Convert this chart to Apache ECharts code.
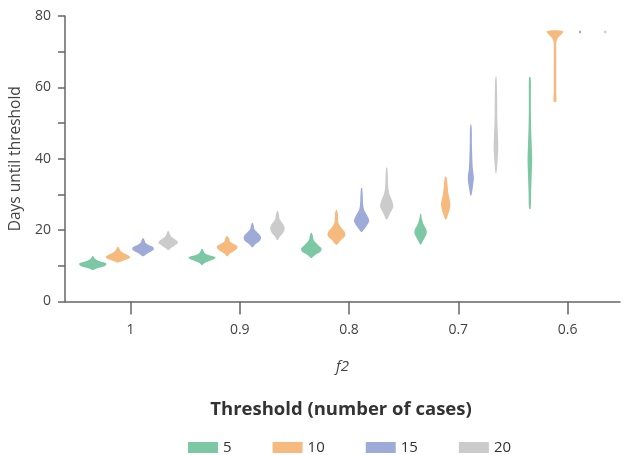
<!DOCTYPE html>
<html>
<head>
<meta charset="utf-8">
<script src="https://cdn.jsdelivr.net/npm/echarts@6/dist/echarts.min.js"></script>
<style>
  html, body { margin: 0; padding: 0; background: #fff; }
  #chart { width: 627px; height: 455px; }
</style>
</head>
<body>
<div id="chart"></div>
<script>
// f2 groups along x, one violin per threshold inside each group
const f2Labels = ['1', '0.9', '0.8', '0.7', '0.6'];
const thresholds = ['5', '10', '15', '20'];

// lowest / highest days per violin (one entry per f2 group)
const low5 = [8.8, 10.2, 12.2, 16.0, 26.0];
const high5 = [12.7, 14.7, 19.2, 24.5, 62.8];
const low10 = [10.9, 12.7, 15.9, 23.0, 56.0];
const high10 = [15.3, 18.3, 25.6, 35.0, 75.7];
const low15 = [12.7, 15.2, 19.5, 29.7, 75.2];
const high15 = [17.7, 22.0, 31.8, 49.5, 75.8];
const low20 = [14.4, 17.2, 23.0, 36.0, 75.2];
const high20 = [19.7, 25.3, 37.5, 63.0, 75.8];

// density profile, evenly spaced from low to high
const dens5 = [
  [1, 9, 21, 26, 26, 15, 7, 3, 1],
  [1, 5, 14, 24, 26, 12, 5, 3, 1],
  [1, 8, 18, 20, 14, 8, 4, 3, 1],
  [1, 5, 9, 12, 11, 7, 4, 2, 1],
  [1.5, 2.5, 3.5, 4.5, 3.5, 2.5, 2, 2, 1.5]
];
const dens10 = [
  [1, 10, 21, 24, 18, 10, 5, 3, 1],
  [1, 5, 13, 19, 20, 12, 5, 4, 1],
  [1, 8, 17, 16, 9, 4, 3, 3, 1],
  [1, 5, 8, 9, 7, 5, 4, 3, 1],
  [2.5, 2.5, 2.5, 2.5, 2.5, 2.5, 2.5, 3.5, 16]
];
const dens15 = [
  [1, 7, 15, 21, 20, 11, 5, 3, 1],
  [1, 6, 14, 17, 15, 9, 4, 3, 1],
  [1, 9, 15, 11, 5, 3, 2.5, 2, 1],
  [1, 4, 6, 4, 3, 2.5, 2, 2, 1],
  [2, 2, 2]
];
const dens20 = [
  [1, 6, 13, 19, 17, 10, 5, 3, 1],
  [1, 5, 11, 14, 13, 8, 4, 3, 1],
  [1, 7, 13, 10, 5, 3, 2.5, 2, 1],
  [1, 3, 4.5, 4, 3, 2.5, 2.5, 2, 1],
  [2, 2, 2]
];

const colors = ['#7cc7a4', '#f6b97e', '#9eabd8', '#cbcbcb'];
const dodge = [-0.345, -0.115, 0.115, 0.345];
const densScale = 0.225 / 24; // x-units per density unit

const lows = [low5, low10, low15, low20];
const highs = [high5, high10, high15, high20];
const profiles = [dens5, dens10, dens15, dens20];

function renderViolin(params, api) {
  const s = params.seriesIndex;
  const prof = profiles[s][params.dataIndex];
  const cx = api.value(0) + dodge[s];
  const lo = api.value(1);
  const hi = api.value(2);
  const n = prof.length;
  const right = [];
  const left = [];
  for (let k = 0; k < n; k++) {
    const v = lo + (hi - lo) * k / (n - 1);
    const hw = prof[k] * densScale / 2;
    right.push(api.coord([cx + hw, v]));
    left.push(api.coord([cx - hw, v]));
  }
  return {
    type: 'polygon',
    shape: { points: right.concat(left.reverse()), smooth: 0.3 },
    style: { fill: colors[s] }
  };
}

const font = '"Open Sans", "Noto Sans", sans-serif';
const series = thresholds.map(function (t, s) {
  return {
    name: t,
    type: 'custom',
    renderItem: renderViolin,
    itemStyle: { color: colors[s] },
    encode: { x: 0, y: [1, 2] },
    data: f2Labels.map(function (f, g) { return [g, lows[s][g], highs[s][g]]; })
  };
});

const chart = echarts.init(document.getElementById('chart'));
chart.setOption({
  animation: false,
  textStyle: { fontFamily: font },
  grid: { left: 64, right: 7, top: 16, bottom: 153.5 },
  title: {
    text: 'Threshold (number of cases)',
    left: 336,
    top: 395,
    textAlign: 'center',
    textStyle: { fontFamily: font, fontSize: 18.5, fontWeight: 'bold', color: '#333' }
  },
  legend: {
    left: 183,
    top: 435,
    itemWidth: 30,
    itemHeight: 11,
    itemGap: 41,
    icon: 'rect',
    textStyle: { fontFamily: font, fontSize: 15, color: '#333' },
    data: thresholds
  },
  xAxis: {
    type: 'value',
    min: -0.6,
    max: 4.48,
    name: 'f2',
    nameLocation: 'middle',
    nameGap: 58,
    nameTextStyle: { fontFamily: font, fontSize: 15, fontStyle: 'italic', color: '#444' },
    axisLine: { lineStyle: { color: '#666', width: 1.5 } },
    axisTick: { show: true, length: 13, customValues: [0, 1, 2, 3, 4], lineStyle: { color: '#666', width: 1.5 } },
    axisLabel: {
      customValues: [0, 1, 2, 3, 4],
      margin: 22,
      fontSize: 14,
      color: '#444',
      formatter: function (v) { return f2Labels[Math.round(v)]; }
    },
    splitLine: { show: false }
  },
  yAxis: {
    type: 'value',
    min: 0,
    max: 80,
    interval: 10,
    name: 'Days until threshold',
    nameLocation: 'middle',
    nameGap: 40,
    nameTextStyle: { fontFamily: font, fontSize: 15.5, color: '#444' },
    axisLine: { show: true, onZero: false, lineStyle: { color: '#666', width: 1.5 } },
    axisTick: { show: true, length: 7, lineStyle: { color: '#666', width: 1.5 } },
    axisLabel: {
      margin: 14,
      fontSize: 14,
      color: '#444',
      formatter: function (v) { return v % 20 === 0 ? String(v) : ''; }
    },
    splitLine: { show: false }
  },
  series: series
});
</script>
</body>
</html>
